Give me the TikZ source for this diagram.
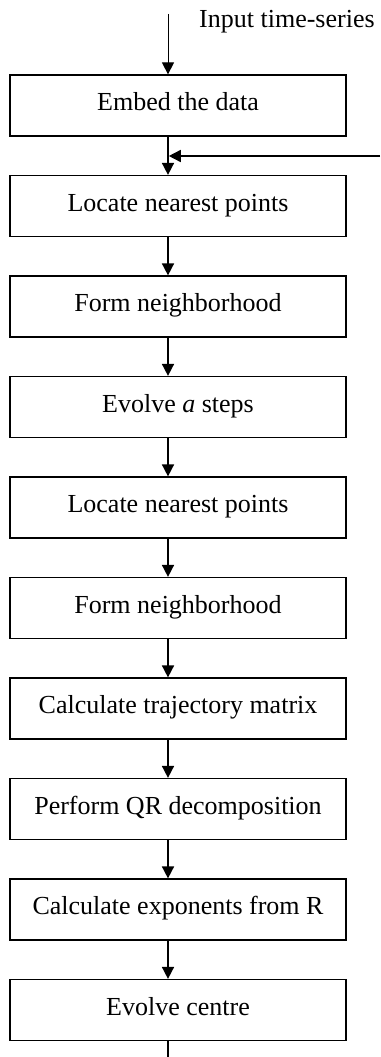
\documentclass[tikz,border=0pt]{standalone}
\usepackage{fontspec}
\setmainfont{Liberation Serif}
\usetikzlibrary{arrows.meta}
\begin{document}
\begin{tikzpicture}[x=1pt,y=-1pt,
  stepbox/.style={draw,line width=1.2pt,minimum width=336pt,minimum height=61pt,inner sep=0pt,
    text height=17pt,text depth=6.5pt,font=\fontsize{26}{30}\selectfont},
  conn/.style={line width=1.6pt,-{Triangle[length=12pt,width=12pt]}},
  thinconn/.style={line width=0.9pt,-{Triangle[length=12pt,width=12pt]}},
  plain/.style={line width=1.6pt}]
\useasboundingbox (0,0) rectangle (380,1057);
\node[stepbox] (b1) at (178,105.5) {Embed the data};
\node[stepbox] (b2) at (178,206) {Locate nearest points};
\node[stepbox] (b3) at (178,306.5) {Form neighborhood};
\node[stepbox] (b4) at (178,407) {Evolve \textit{a} steps};
\node[stepbox] (b5) at (178,507.5) {Locate nearest points};
\node[stepbox] (b6) at (178,608) {Form neighborhood};
\node[stepbox] (b7) at (178,708.5) {Calculate trajectory matrix};
\node[stepbox] (b8) at (178,809) {Perform QR decomposition};
\node[stepbox] (b9) at (178,909.5) {Calculate exponents from R};
\node[stepbox] (b10) at (178,1010) {Evolve centre};
\coordinate (in) at (168,14);
\coordinate (fb) at (380,156);
\coordinate (j) at (168.8,156);
\coordinate (out) at (168,1057);
\node[anchor=base west,inner sep=0pt,font=\fontsize{26}{30}\selectfont] (lbl) at (199,28) {Input time-series};
\draw[thinconn] (in) -- ([xshift=-10pt]b1.north);
\draw[conn] (fb) -- (j);
\draw[conn] ([xshift=-10pt]b1.south) -- ([xshift=-10pt]b2.north);
\draw[conn] ([xshift=-10pt]b2.south) -- ([xshift=-10pt]b3.north);
\draw[conn] ([xshift=-10pt]b3.south) -- ([xshift=-10pt]b4.north);
\draw[conn] ([xshift=-10pt]b4.south) -- ([xshift=-10pt]b5.north);
\draw[conn] ([xshift=-10pt]b5.south) -- ([xshift=-10pt]b6.north);
\draw[conn] ([xshift=-10pt]b6.south) -- ([xshift=-10pt]b7.north);
\draw[conn] ([xshift=-10pt]b7.south) -- ([xshift=-10pt]b8.north);
\draw[conn] ([xshift=-10pt]b8.south) -- ([xshift=-10pt]b9.north);
\draw[conn] ([xshift=-10pt]b9.south) -- ([xshift=-10pt]b10.north);
\draw[plain] ([xshift=-10pt]b10.south) -- (out);
\end{tikzpicture}
\end{document}
